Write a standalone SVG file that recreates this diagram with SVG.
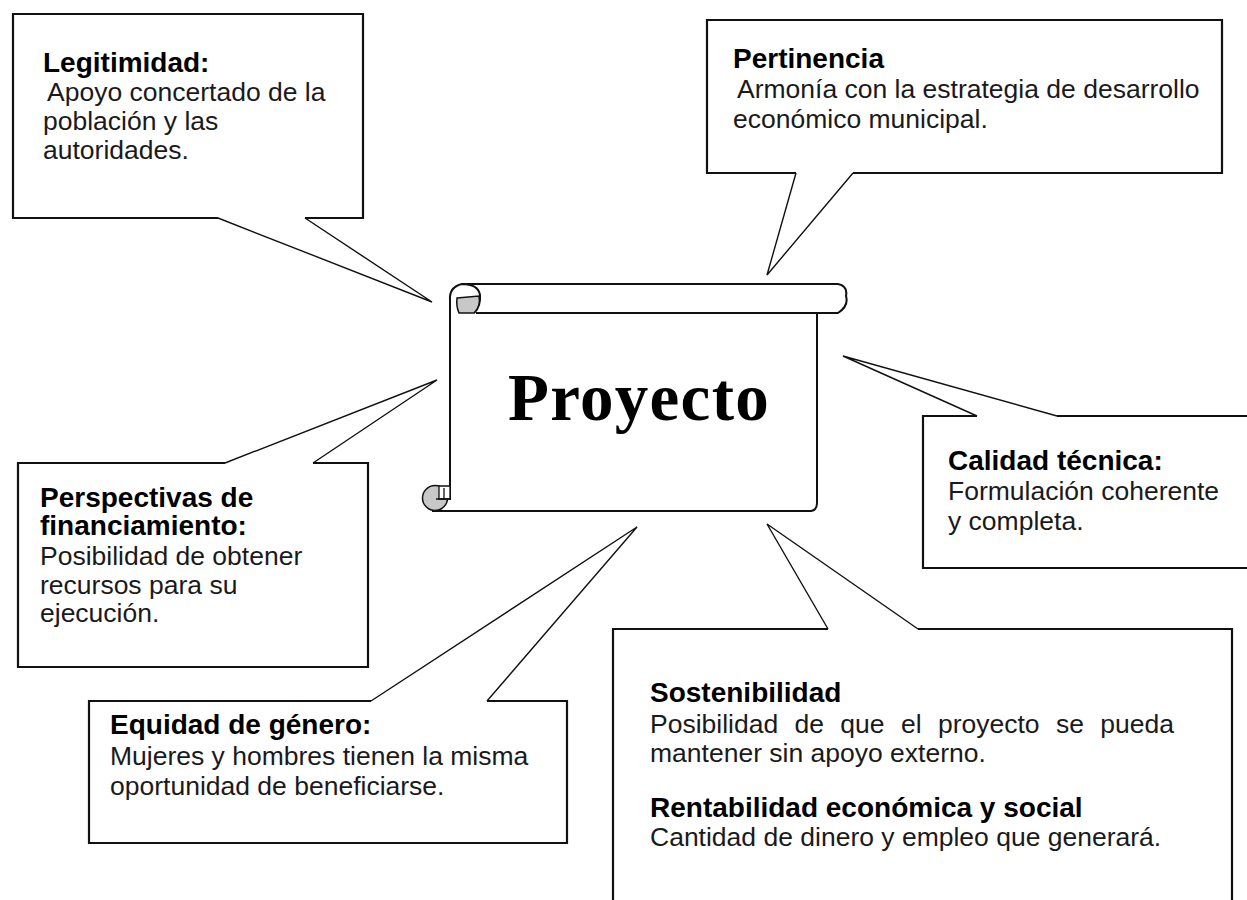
<svg xmlns="http://www.w3.org/2000/svg" width="1247" height="900" viewBox="0 0 1247 900">
<style>
.bg{fill:#fff;stroke:none}
.box{fill:none;stroke:#111;stroke-width:2.2;stroke-linejoin:miter}
.tail{fill:none;stroke:#111;stroke-width:1.4;stroke-linejoin:miter}
.t{font-family:"Liberation Sans",Arial,sans-serif;font-size:28px;font-weight:bold;fill:#000}
.b{font-family:"Liberation Sans",Arial,sans-serif;font-size:26.5px;fill:#1a1a1a}
.scroll{fill:none;stroke:#111;stroke-width:2}
.curl{fill:#c8c8c8;stroke:#111;stroke-width:1.5}
.title{font-family:"Liberation Serif","Times New Roman",serif;font-size:67px;font-weight:bold;fill:#000;letter-spacing:1.3px}
</style>
<rect width="1247" height="900" fill="#fff"/>

<g id="proyecto">
  <rect x="450" y="298" width="367" height="213" fill="#fff"/>
  <path class="scroll" d="M450,296 L450,500"/>
  <path class="scroll" d="M817,313 L817,503 Q817,510 811,511 L432,511"/>
  <path fill="#fff" class="scroll" d="M462,284 L838,284 Q848,286 846,296 Q849,306 838,313 L476,313"/>
  <path class="scroll" d="M450,300 Q449,287 462,284 Q478,284 480,295 Q481,306 474,313"/>
  <path class="curl" d="M457,298 L479,296 Q481,306 474,313 L459,313 Q456,306 457,298 Z"/>
  <circle class="curl" cx="435" cy="498" r="12.5"/>
  <path fill="#fff" stroke="#111" stroke-width="1.3" d="M439,486 L450,486 L450,499 L439,499 Z"/>
  <path fill="none" stroke="#111" stroke-width="1.3" d="M444,488 L444,499 M436,499 L450,499"/>
  <text class="title" x="639" y="420" text-anchor="middle">Proyecto</text>
</g>

<g id="legitimidad">
  <path class="bg" d="M13,14 H363 V218 H305 L432,302 L218,218 H13 Z"/>
  <path class="box" d="M305,218 H363 V14 H13 V218 H218"/>
  <path class="tail" d="M218,218 L432,302 L305,218"/>
  <text class="t" x="43" y="72">Legitimidad:</text>
  <text class="b" x="47" y="101">Apoyo concertado de la</text>
  <text class="b" x="43" y="130">población y las</text>
  <text class="b" x="43" y="159">autoridades.</text>
</g>

<g id="pertinencia">
  <path class="bg" d="M707,20 H1222 V173 H853 L767,275 L796,173 H707 Z"/>
  <path class="box" d="M853,173 H1222 V20 H707 V173 H796"/>
  <path class="tail" d="M796,173 L767,275 L853,173"/>
  <text class="t" x="733" y="68">Pertinencia</text>
  <text class="b" x="737" y="98">Armonía con la estrategia de desarrollo</text>
  <text class="b" x="733" y="128">económico municipal.</text>
</g>

<g id="perspectivas">
  <path class="bg" d="M18,463 H225 L437,380 L313,463 H368 V667 H18 Z"/>
  <path class="box" d="M225,463 H18 V667 H368 V463 H313"/>
  <path class="tail" d="M225,463 L437,380 L313,463"/>
  <text class="t" x="40" y="507">Perspectivas de</text>
  <text class="t" x="40" y="535">financiamiento:</text>
  <text class="b" x="40" y="565">Posibilidad de obtener</text>
  <text class="b" x="40" y="594">recursos para su</text>
  <text class="b" x="40" y="622">ejecución.</text>
</g>

<g id="calidad">
  <path class="bg" d="M923,416 H977 L843,356 L1057,416 H1250 V568 H923 Z"/>
  <path class="box" d="M977,416 H923 V568 H1250 M1250,416 H1057"/>
  <path class="tail" d="M977,416 L843,356 L1057,416"/>
  <text class="t" x="948" y="470">Calidad técnica:</text>
  <text class="b" x="948" y="500">Formulación coherente</text>
  <text class="b" x="948" y="530">y completa.</text>
</g>

<g id="equidad">
  <path class="bg" d="M89,701 H371 L637,527 L487,701 H567 V843 H89 Z"/>
  <path class="box" d="M371,701 H89 V843 H567 V701 H487"/>
  <path class="tail" d="M371,701 L637,527 L487,701"/>
  <text class="t" x="110" y="734">Equidad de género:</text>
  <text class="b" x="110" y="765">Mujeres y hombres tienen la misma</text>
  <text class="b" x="110" y="795">oportunidad de beneficiarse.</text>
</g>

<g id="sostenibilidad">
  <path class="bg" d="M613,629 H828 L767,524 L918,629 H1232 V905 H613 Z"/>
  <path class="box" d="M828,629 H613 V905 M1232,905 V629 H918"/>
  <path class="tail" d="M828,629 L767,524 L918,629"/>
  <text class="t" x="650" y="702">Sostenibilidad</text>
  <text class="b" x="650" y="733" word-spacing="9">Posibilidad de que el proyecto se pueda</text>
  <text class="b" x="650" y="762">mantener sin apoyo externo.</text>
  <text class="t" x="650" y="817">Rentabilidad económica y social</text>
  <text class="b" x="650" y="846">Cantidad de dinero y empleo que generará.</text>
</g>

<g id="connectors"></g>
</svg>
